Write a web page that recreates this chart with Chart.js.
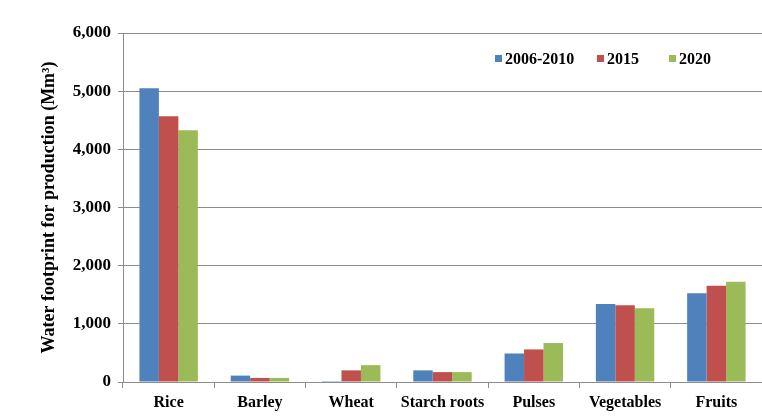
<!DOCTYPE html>
<html>
<head>
<meta charset="utf-8">
<script src="https://cdn.jsdelivr.net/npm/chart.js@4"></script>
<style>
  html, body { margin: 0; padding: 0; background: #fff; }
  #wrap { position: relative; width: 762px; height: 420px; }
</style>
</head>
<body>
<div id="wrap"><canvas id="chart" width="762" height="420"></canvas></div>
<script>
const categories = ['Rice', 'Barley', 'Wheat', 'Starch roots', 'Pulses', 'Vegetables', 'Fruits'];
const seriesNames = ['2006-2010', '2015', '2020'];
const values2006 = [5050, 110, 15, 200, 490, 1340, 1525];
const values2015 = [4570, 70, 200, 170, 560, 1320, 1655];
const values2020 = [4330, 70, 290, 170, 670, 1270, 1725];
const seriesColors = ['#4F81BD', '#C0504D', '#9BBB59'];
const yTicks = [0, 1000, 2000, 3000, 4000, 5000, 6000];

const serif = '"Liberation Serif", "Times New Roman", serif';
const gridColor = '#8c8c8c';

// legend drawn inside the plot, top right
const insideLegend = {
  id: 'insideLegend',
  afterDraw(chart) {
    const ctx = chart.ctx;
    const area = chart.chartArea;
    const y = area.top + 26;
    const xs = [area.left + 372, area.left + 474, area.left + 546];
    ctx.save();
    ctx.font = 'bold 16px ' + serif;
    ctx.textBaseline = 'middle';
    chart.data.datasets.forEach((ds, i) => {
      ctx.fillStyle = ds.backgroundColor;
      ctx.fillRect(xs[i], y - 4, 7, 7);
      ctx.fillStyle = '#000';
      ctx.fillText(ds.label, xs[i] + 10, y + 1);
    });
    ctx.restore();
  }
};

const seriesValues = [values2006, values2015, values2020];

new Chart(document.getElementById('chart').getContext('2d'), {
  type: 'bar',
  data: {
    labels: categories,
    datasets: seriesNames.map((name, i) => ({
      label: name,
      data: seriesValues[i],
      backgroundColor: seriesColors[i],
      borderWidth: 0,
      categoryPercentage: 0.64,
      barPercentage: 1.0
    }))
  },
  options: {
    responsive: false,
    animation: false,
    layout: { padding: { top: 33, right: 0, left: 0, bottom: 0 } },
    plugins: {
      legend: { display: false },
      tooltip: { enabled: false }
    },
    scales: {
      x: {
        offset: true,
        grid: {
          offset: true,
          drawOnChartArea: false,
          drawTicks: true,
          tickLength: 6,
          color: gridColor
        },
        border: { color: gridColor, width: 1 },
        ticks: {
          color: '#000',
          font: { family: serif, size: 16, weight: 'bold' },
          padding: 5,
          autoSkip: false,
          maxRotation: 0
        },
        afterFit(scale) { scale.height = 38; }
      },
      y: {
        min: 0,
        max: 6000,
        afterBuildTicks(scale) { scale.ticks = yTicks.map(v => ({ value: v })); },
        grid: {
          color: gridColor,
          drawTicks: true,
          tickLength: 5
        },
        border: { color: gridColor, width: 1 },
        ticks: {
          color: '#000',
          font: { family: serif, size: 17, weight: 'bold' },
          padding: 7,
          callback: v => v.toLocaleString('en-US')
        },
        title: {
          display: true,
          text: 'Water footprint for production (Mm\u00B3)',
          color: '#000',
          font: { family: serif, size: 18, weight: 'bold' },
          padding: { top: 39, bottom: 0 }
        },
        afterFit(scale) { scale.width = 123; }
      }
    }
  },
  plugins: [insideLegend]
});
</script>
</body>
</html>
